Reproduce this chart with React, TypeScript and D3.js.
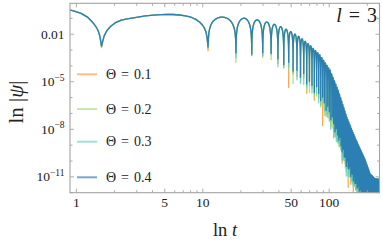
import React from 'react';
import * as d3 from 'd3';

const W = 383;
const H = 248;

// ---- data ----
const seriesLabels = ['Θ = 0.1', 'Θ = 0.2', 'Θ = 0.3', 'Θ = 0.4'];
const seriesColors = ['#f39a34', '#a6d96a', '#5ccfbe', '#1f6db3'];

// upper envelope of |psi| : t and log10 value
const envT = [0.5, 0.89, 1.18, 1.40, 1.54, 1.58, 2.14, 2.9, 5.3, 8.3, 11.0, 14.5, 18.4, 21.6, 28.3, 34.0, 40.8, 49.0, 58.8, 70.5, 84.6, 101.4, 117.4, 138.3, 163, 192.2, 210.5, 230.5, 257];
const envLog = [-0.28, -0.31, -0.43, -0.69, -0.8, -0.8, -0.66, -0.76, -0.75, -0.75, -0.85, -0.93, -0.98, -0.99, -1.12, -1.28, -1.5, -1.81, -2.19, -2.69, -3.32, -4.26, -5.52, -7.28, -8.67, -9.92, -10.81, -11.12, -11.18];

// positions of the dips (zeros) in t
const dipT = [
  1.58, 11.0, 18.3, 24.4, 29.8, 34.7, 39.3, 43.7, 47.8, 51.8,
  55.6, 59.3, 62.9, 66.4, 69.8, 73.1, 76.3, 79.5, 82.6, 85.7,
  88.7, 91.6, 94.5, 97.4, 100.2, 103.0, 105.8, 108.5, 111.2, 113.9,
  116.5, 119.1, 121.7, 124.2, 126.7, 129.2, 131.7, 134.1, 136.5, 138.9,
  141.3, 143.6, 146.0, 148.3, 150.6, 152.9, 155.2, 157.4, 159.6, 161.9,
  164.1, 166.2, 168.4, 170.6, 172.7, 174.8, 177.0, 179.1, 181.2, 183.2,
  185.3, 187.4, 189.4, 191.5, 193.5, 195.5, 197.5, 199.5, 201.5, 203.4,
  205.4, 207.3, 209.3, 211.2, 213.2, 215.1, 217.0, 218.9, 220.8, 222.7,
  224.5, 226.4, 228.3, 230.1, 232.0, 233.8, 235.6, 237.5, 239.3, 241.1,
  242.9, 244.7, 246.5, 248.3,
];

// dip depth (decades below envelope) for Θ = 0.4
const depthBase = [
  1.95, 1.95, 2.2, 2.2, 2.0, 1.9, 2.1, 2.3, 2.0, 2.4,
  2.2, 2.5, 2.1, 2.6, 2.3, 2.4, 2.7, 2.2, 2.5, 2.8,
  2.4, 2.6, 2.9, 2.5, 2.7, 3.0, 2.6, 2.8, 3.1, 2.7,
  2.9, 3.0, 2.6, 2.9, 3.1, 2.7, 3.0, 2.8, 3.2, 2.7,
  3.0, 2.9, 2.6, 3.1, 2.8, 2.7, 3.0, 2.6, 2.9, 2.8,
  2.5, 2.9, 2.7, 2.4, 2.8, 2.6, 2.5, 2.7, 2.4, 2.6,
  2.5, 2.3, 2.6, 2.4, 2.3, 2.5, 2.4, 2.2, 2.5, 2.3,
  2.2, 2.4, 2.3, 2.2, 2.4, 2.3, 2.2, 2.4, 2.3, 2.2,
  2.4, 2.3, 2.2, 2.4, 2.3, 2.2, 2.4, 2.3, 2.2, 2.4,
  2.3, 2.2, 2.4, 2.3,
];
// extra depth of the other series
const extraOrange = [
  0.1, 0.25, 0.0, 0.1, 0.2, 0.0, 0.3, 0.1, 1.6, 0.2,
  0.4, 0.0, 0.3, 0.6, 0.1, 0.2, 0.5, 0.0, 0.3, 0.2,
  1.8, 0.1, 0.4, 0.2, 0.6, 0.0, 0.3, 0.9, 0.1, 0.2,
  0.5, 0.1, 0.3, 0.2, 0.7, 0.1, 0.2, 0.4, 0.0, 0.3,
  1.2, 0.2, 0.1, 0.5, 0.2, 0.3, 0.8, 0.1, 0.2, 0.4,
  0.1, 0.6, 0.2, 0.3, 0.1, 0.5, 0.2, 0.4, 0.1, 0.3,
  0.2, 0.5, 0.1, 0.3, 0.2, 0.4, 0.1, 0.3, 0.2, 0.5,
  0.1, 0.3, 0.2, 0.4, 0.1, 0.3, 0.2, 0.5, 0.1, 0.3,
  0.2, 0.4, 0.1, 0.3, 0.2, 0.5, 0.1, 0.3, 0.2, 0.4,
  0.1, 0.3, 0.2, 0.4,
];
const extraGreen = [
  0.05, 0.1, 0.6, 0.0, 0.3, 0.4, 0.1, 0.2, 0.5, 0.8,
  0.1, 0.3, 0.2, 0.5, 0.7, 0.1, 0.3, 0.6, 0.2, 0.4,
  0.3, 0.8, 0.1, 0.5, 0.2, 0.4, 0.7, 0.2, 0.3, 0.6,
  0.1, 0.4, 0.6, 0.2, 0.3, 0.5, 0.1, 0.7, 0.3, 0.2,
  0.4, 0.1, 0.6, 0.3, 0.5, 0.2, 0.4, 0.6, 0.1, 0.3,
  0.5, 0.2, 0.4, 0.1, 0.6, 0.3, 0.2, 0.5, 0.3, 0.1,
  0.4, 0.2, 0.3, 0.5, 0.1, 0.3, 0.4, 0.2, 0.3, 0.1,
  0.3, 0.2, 0.4, 0.1, 0.3, 0.2, 0.4, 0.1, 0.3, 0.2,
  0.4, 0.1, 0.3, 0.2, 0.4, 0.1, 0.3, 0.2, 0.4, 0.1,
  0.3, 0.2, 0.4, 0.1,
];
const extraTeal = [
  0.0, 0.05, 0.3, 0.1, 0.2, 0.1, 0.5, 0.2, 0.3, 0.1,
  0.6, 0.4, 0.7, 0.2, 0.3, 0.5, 0.1, 0.4, 0.6, 0.3,
  0.2, 0.5, 0.3, 0.7, 0.4, 0.6, 0.2, 0.5, 0.3, 0.8,
  0.4, 0.2, 0.6, 0.3, 0.5, 0.7, 0.2, 0.4, 0.6, 0.3,
  0.5, 0.3, 0.7, 0.2, 0.4, 0.6, 0.3, 0.5, 0.2, 0.4,
  0.3, 0.5, 0.2, 0.4, 0.6, 0.2, 0.4, 0.3, 0.5, 0.2,
  0.4, 0.3, 0.5, 0.2, 0.4, 0.3, 0.5, 0.2, 0.4, 0.3,
  0.5, 0.2, 0.4, 0.3, 0.5, 0.2, 0.4, 0.3, 0.5, 0.2,
  0.4, 0.3, 0.5, 0.2, 0.4, 0.3, 0.5, 0.2, 0.4, 0.3,
  0.5, 0.2, 0.4, 0.3,
];
const extraBlue = dipT.map(() => 0);
const seriesExtra = [extraOrange, extraGreen, extraTeal, extraBlue];

const xTickLabels = [1, 5, 10, 50, 100];
const yTickLabelExp = [-2, -5, -8, -11];

// ---- layout ----
const L = 70, R = 379.5, T = 3.3, B = 192.7;
const FONT = '"Liberation Serif", "DejaVu Serif", serif';
const AXIS = '#a3a3a3';

const xScale = d3.scaleLog().domain([0.89, 250]).range([L, R]);
const yScale = d3.scaleLog().domain([1e-12, Math.pow(10, -0.05)]).range([B, T]);

const envScale = d3.scaleLinear().domain(envT.map(Math.log10)).range(envLog).clamp(true);
const env = (t: number) => envScale(Math.log10(t));

const fracs = [0.008, 0.015, 0.03, 0.05, 0.08, 0.12, 0.17, 0.23, 0.3, 0.37, 0.44, 0.5, 0.56, 0.63, 0.7, 0.77, 0.83, 0.88, 0.92, 0.95, 0.97, 0.985, 0.992];

function buildPoints(extra: number[]): [number, number][] {
  const dips = [0, ...dipT];
  const last = dipT[dipT.length - 1];
  dips.push(last + (last - dipT[dipT.length - 2]));
  const pts: [number, number][] = [];
  for (let i = 0; i < dips.length - 1; i++) {
    const a = dips[i], b = dips[i + 1];
    if (i > 0) {
      const k = i - 1;
      const depth = (depthBase[k] ?? 2.3) + (extra[k] ?? 0);
      pts.push([a, env(a) - depth]);
    }
    const sa = Math.sqrt(a), sb = Math.sqrt(b);
    for (const f of fracs) {
      const s = sa + (sb - sa) * f;
      const t = s * s;
      if (t < 0.6) continue;
      pts.push([t, env(t) + Math.log10(Math.sin(Math.PI * f))]);
    }
  }
  return pts;
}

const line = d3
  .line<[number, number]>()
  .x((d) => xScale(d[0]))
  .y((d) => Math.min(B + 20, yScale(Math.pow(10, Math.max(d[1], -13.5)))));

function plainLabel(e: number) {
  if (e === -2) return '0.01';
  return null;
}

export default function App() {
  const xMinor: number[] = [];
  for (const dec of [1, 10, 100]) for (let m = 1; m <= 9; m++) {
    const v = m * dec;
    if (v >= 0.89 && v <= 250) xMinor.push(v);
  }
  const yTicks: number[] = [];
  for (let e = -12; e <= -1; e++) yTicks.push(e);

  const legendY = [74.3, 109, 141.7, 177.3];

  return (
    <svg width={W} height={H} style={{ position: 'absolute', left: 0, top: 0, background: '#fff' }} fontFamily={FONT}>
      <defs>
        <clipPath id="plotclip">
          <rect x={L} y={T} width={R - L} height={B - T} />
        </clipPath>
      </defs>

      <g clipPath="url(#plotclip)">
        {seriesExtra.map((ex, i) => (
          <path key={i} d={line(buildPoints(ex)) || ''} fill="none" stroke={seriesColors[i]} strokeWidth={1.3} strokeOpacity={0.82} strokeLinejoin="round" />
        ))}
      </g>

      {/* frame */}
      <rect x={L} y={T} width={R - L} height={B - T} fill="none" stroke={AXIS} strokeWidth={1.1} />

      {/* x ticks */}
      {xMinor.map((v) => {
        const x = xScale(v);
        const major = xTickLabels.includes(v);
        const len = major ? 4 : 2.5;
        return (
          <g key={'x' + v}>
            <line x1={x} x2={x} y1={B} y2={B - len} stroke={AXIS} strokeWidth={0.9} />
            <line x1={x} x2={x} y1={T} y2={T + len} stroke={AXIS} strokeWidth={0.9} />
          </g>
        );
      })}
      {xTickLabels.map((v) => (
        <text key={'xl' + v} x={xScale(v)} y={207} textAnchor="middle" fontSize={13.5} fill="#222">{v}</text>
      ))}

      {/* y ticks */}
      {yTicks.map((e) => {
        const y = yScale(Math.pow(10, e));
        const major = yTickLabelExp.includes(e);
        const len = major ? 4 : 2.5;
        return (
          <g key={'y' + e}>
            <line x1={L} x2={L + len} y1={y} y2={y} stroke={AXIS} strokeWidth={0.9} />
            <line x1={R} x2={R - len} y1={y} y2={y} stroke={AXIS} strokeWidth={0.9} />
          </g>
        );
      })}
      {yTickLabelExp.map((e) => {
        const y = yScale(Math.pow(10, e)) + 4.5;
        const plain = plainLabel(e);
        return plain ? (
          <text key={'yl' + e} x={64.5} y={y} textAnchor="end" fontSize={13.5} fill="#222">{plain}</text>
        ) : (
          <text key={'yl' + e} x={64.5} y={y} textAnchor="end" fontSize={13.5} fill="#222">
            10<tspan dy={-5.5} fontSize={9.5}>{'\u2212' + Math.abs(e)}</tspan>
          </text>
        );
      })}

      {/* axis titles */}
      <text transform="translate(23,102) rotate(-90)" textAnchor="middle" fontSize={21} fill="#222">
        ln |<tspan fontStyle="italic">ψ</tspan>|
      </text>
      <text x={225} y={236} textAnchor="middle" fontSize={18.5} fill="#222">
        ln <tspan fontStyle="italic">t</tspan>
      </text>
      <text x={377} y={22} textAnchor="end" fontSize={20} fill="#222" wordSpacing={2}>
        <tspan fontStyle="italic">l</tspan>{' = 3'}
      </text>

      {/* legend */}
      {seriesLabels.map((lab, i) => (
        <g key={'lg' + i}>
          <line x1={77} x2={97} y1={legendY[i]} y2={legendY[i]} stroke={seriesColors[i]} strokeWidth={2} strokeOpacity={0.6} />
          <text x={106} y={legendY[i] + 4.5} fontSize={14} fill="#222" wordSpacing={1.5}>{lab}</text>
        </g>
      ))}
    </svg>
  );
}
